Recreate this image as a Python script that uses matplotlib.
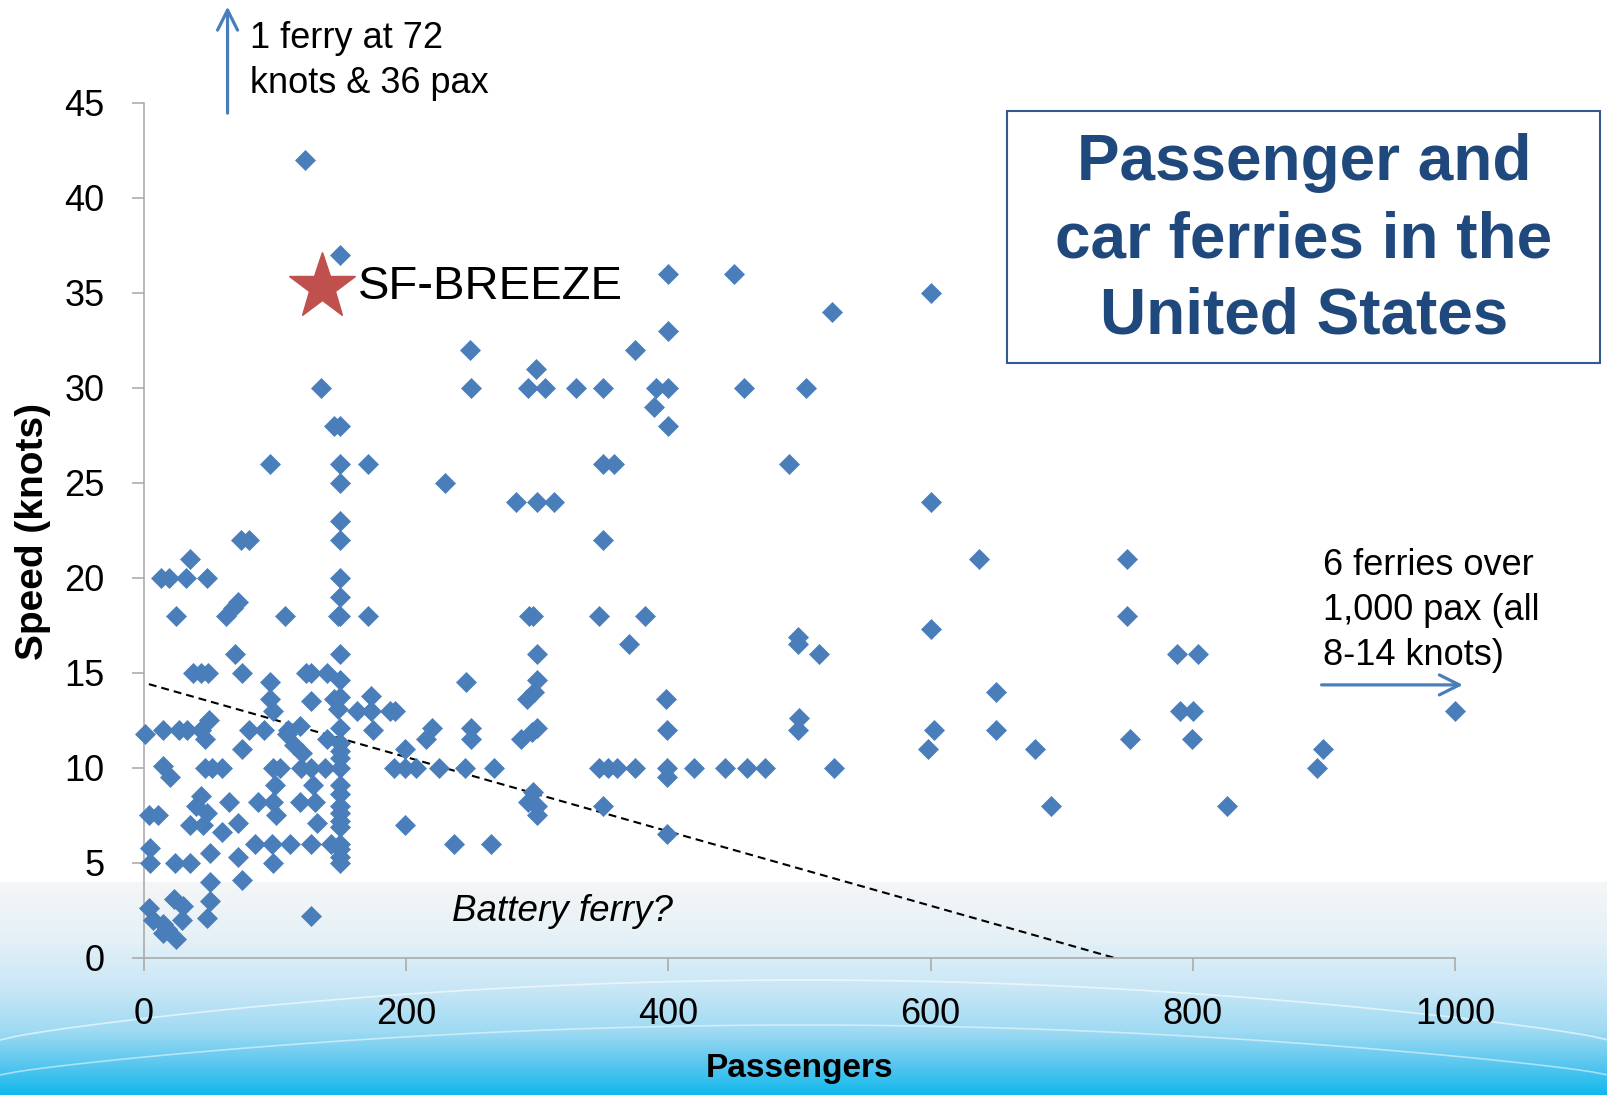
import numpy as np
import matplotlib.pyplot as plt
from matplotlib.colors import LinearSegmentedColormap
from matplotlib.patches import Rectangle

plt.rcParams['font.family'] = ['Liberation Sans', 'DejaVu Sans']

# ferries: passengers / speed in knots
pax = [123, 150, 135, 145, 150, 96, 150, 171, 150, 150, 150, 74, 80, 35, 13, 19, 32, 48, 150,
       249, 250, 230, 293, 299, 306, 330, 350, 375, 389, 391, 400, 400, 400, 400, 450, 458,
       505, 525, 600, 284, 300, 313, 350, 359, 350, 492, 600, 637, 750,
       150, 150, 148, 171, 25, 63, 68, 72, 108, 294, 297, 347, 382, 750, 600,
       70, 150, 300, 370, 499, 499, 515, 788, 804,
       38, 44, 49, 75, 124, 128, 140, 150, 96, 246, 300, 298, 650,
       96, 99, 128, 145, 148, 150, 163, 173, 173, 188, 192, 292, 398, 790, 800, 1000,
       50, 15, 27, 33, 44, 80, 92, 110, 119, 150, 175, 220, 250, 300, 296, 399, 500, 499, 603, 650,
       1, 47, 75, 109, 115, 121, 140, 150, 150, 215, 250, 288, 199, 598, 680, 752, 799, 899,
       15, 47, 52, 60, 99, 104, 120, 128, 138, 150, 150, 191, 199, 208, 225, 245, 267,
       347, 354, 361, 375, 399, 420, 443, 460, 474, 526, 895, 399,
       20, 129, 100, 150,
       44, 40, 65, 87, 99, 119, 131, 101, 48, 150, 150, 150, 150, 150, 4, 11, 35, 45, 72, 132,
       199, 297, 293, 300, 300, 350, 692, 826,
       60, 85, 98, 112, 128, 143, 150, 237, 265, 399,
       5, 5, 24, 35, 51, 72, 99, 150, 150, 150,
       75, 51, 51, 48, 128, 4, 7, 15, 15, 25, 23, 30, 29, 18]
knots = [42, 37, 30, 28, 28, 26, 26, 26, 25, 23, 22, 22, 22, 21, 20, 20, 20, 20, 20,
         32, 30, 25, 30, 31, 30, 30, 30, 32, 29, 30, 30, 28, 33, 36, 36, 30,
         30, 34, 35, 24, 24, 24, 26, 26, 22, 26, 24, 21, 21,
         19, 18, 18, 18, 18, 18, 18.4, 18.7, 18, 18, 18, 18, 18, 18, 17.3,
         16, 16, 16, 16.5, 16.9, 16.5, 16, 16, 16,
         15, 15, 15, 15, 15, 15, 15, 14.6, 14.5, 14.5, 14.6, 14, 14,
         13.6, 13, 13.5, 13.6, 13.1, 13.7, 13, 13.8, 13, 13, 13, 13.6, 13.6, 13, 13, 13,
         12.5, 12, 12, 12, 12, 12, 12, 12, 12.2, 12.1, 12, 12.1, 12.1, 12.1, 11.9, 12, 12.6, 12, 12, 12,
         11.8, 11.5, 11, 11.8, 11.2, 10.8, 11.5, 11.3, 10.9, 11.5, 11.5, 11.5, 11, 11, 11, 11.5, 11.5, 11,
         10.1, 10, 10, 10, 10, 10, 10, 10, 10, 10, 10.5, 10, 10, 10, 10, 10, 10,
         10, 10, 10, 10, 10, 10, 10, 10, 10, 10, 10, 9.5,
         9.5, 9.1, 9.1, 9.1,
         8.5, 8, 8.2, 8.2, 8.2, 8.2, 8.2, 7.5, 7.6, 8.6, 8, 7.6, 7.2, 6.9, 7.5, 7.5, 7, 7, 7.1, 7.1,
         7, 8.7, 8.2, 8, 7.5, 8, 8, 8,
         6.6, 6, 6, 6, 6, 6, 6, 6, 6, 6.5,
         5.8, 5, 5, 5, 5.5, 5.3, 5, 5.7, 5.3, 5,
         4.1, 4, 3, 2.1, 2.2, 2.6, 2, 1.8, 1.3, 1, 3.1, 2.7, 2, 1.5]

breeze_pax = 136
breeze_knots = 35.3

trend_pax = [4, 740]
trend_knots = [14.4, 0]

x_ticks = [0, 200, 400, 600, 800, 1000]
y_ticks = [0, 5, 10, 15, 20, 25, 30, 35, 40, 45]

W, H = 1608, 1095
fig = plt.figure(figsize=(W / 100, H / 100), dpi=100)

# light blue band at the bottom of the slide
bg = fig.add_axes([0, 0, 1, 1], zorder=0)
bg.set_xlim(0, W)
bg.set_ylim(H, 0)
bg.axis('off')
band = LinearSegmentedColormap.from_list(
    'band', [(0, '#f5f6f6'), (0.25, '#e6f1f7'), (0.5, '#c9e7f6'),
             (0.7, '#9fdaf3'), (0.86, '#58c6ef'), (1, '#10b8ec')])
grad = np.linspace(0, 1, 256).reshape(-1, 1)
bg.imshow(grad, cmap=band, extent=(0, W, H, 882), aspect='auto')
t = np.linspace(0, 1, 100)
bg.plot(W * t, 1040 - 60 * np.sin(np.pi * t) ** 0.8, color='white', lw=1.2, alpha=0.6)
bg.plot(W * t, 1075 - 50 * np.sin(np.pi * t) ** 0.8, color='white', lw=1.2, alpha=0.5)

ax = fig.add_axes([143.6 / W, 1 - 957.8 / H, 1311.6 / W, 855.2 / H], zorder=1)
ax.patch.set_alpha(0)

ax.plot(pax, knots, 'D', ms=10, color='#4a7ebb', mec='#4a7ebb', mew=0.5,
        clip_on=False, zorder=3)
ax.plot([breeze_pax], [breeze_knots], '*', ms=50, color='#c0504d', clip_on=False, zorder=4)
ax.plot(trend_pax, trend_knots, color='black', lw=1.5, dashes=(3.8, 2.4), zorder=2)

ax.set_xlim(0, 1000)
ax.set_ylim(0, 45)
ax.set_xticks(x_ticks)
ax.set_yticks(y_ticks)
ax.tick_params(direction='out', length=9, width=1.1, color='#a6a6a6',
               labelsize=26, pad=19)
for s in ['top', 'right']:
    ax.spines[s].set_visible(False)
for s in ['left', 'bottom']:
    ax.spines[s].set_color('#a6a6a6')
    ax.spines[s].set_linewidth(1.1)

fig.text(33 / W, 1 - 531 / H, 'Speed (knots)', rotation=90, fontsize=28,
         fontweight='bold', ha='center', va='center')
fig.text(800 / W, 1 - 1069 / H, 'Passengers', fontsize=24, fontweight='bold',
         ha='center', va='center')

# annotations
arrow = dict(arrowstyle='->', color='#4a7ebb', lw=2.3, mutation_scale=36)
ax.annotate('', xy=(64, 50.2), xytext=(64, 44.3), annotation_clip=False, arrowprops=arrow)
ax.text(81, 47.2, '1 ferry at 72\nknots & 36 pax', fontsize=26, ha='left', va='center',
        linespacing=1.36, clip_on=False)

ax.annotate('', xy=(1008, 14.36), xytext=(896, 14.36), annotation_clip=False,
            arrowprops=arrow)
ax.text(899, 18.3, '6 ferries over\n1,000 pax (all\n8-14 knots)', fontsize=26,
        ha='left', va='center', linespacing=1.37, clip_on=False)

ax.text(163, 35.3, 'SF-BREEZE', fontsize=34, ha='left', va='center')
ax.text(235, 2.46, 'Battery ferry?', fontsize=26.5, style='italic', ha='left', va='center')

# title box
fig.patches.append(Rectangle((1007 / W, 1 - 363 / H), 593 / W, 252 / H,
                             transform=fig.transFigure, facecolor='white',
                             edgecolor='#2f5b8f', lw=1.5, zorder=2))
fig.text(1304 / W, 1 - 240 / H, 'Passenger and\ncar ferries in the\nUnited States',
         fontsize=46, fontweight='bold', color='#1f497d', ha='center', va='center',
         linespacing=1.36, zorder=3)

fig.savefig('out.png', dpi=100)
